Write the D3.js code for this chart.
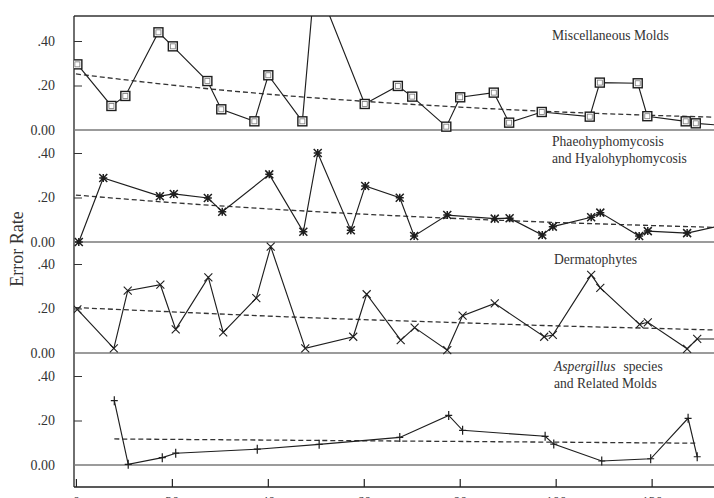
<!DOCTYPE html>
<html>
<head>
<meta charset="utf-8">
<script src="https://cdn.jsdelivr.net/npm/d3@7"></script>
<style>
  html, body { margin: 0; padding: 0; background: #fff; }
  svg { display: block; }
  text { font-family: "Liberation Serif", "DejaVu Serif", serif; fill: #333; }
</style>
</head>
<body>
<svg id="chart" width="714" height="498"></svg>
<script>
// ---------------- data ----------------
const xTicks = [0, 20, 40, 60, 80, 100, 120];
const yTicks = [0, 0.2, 0.4];

const miscX = [0.3, 7.4, 10.3, 17.2, 20.2, 27.4, 30.3, 37.2, 40.1, 47.2, 49.8, 60.2, 67.1, 70.1, 77.2, 80.1, 87.1, 90.3, 97.1, 107.1, 109.2, 117.1, 119.1, 127.1, 129.2, 134];
const miscY = [0.295, 0.108, 0.153, 0.439, 0.376, 0.22, 0.093, 0.039, 0.246, 0.039, 0.68, 0.117, 0.198, 0.150, 0.015, 0.147, 0.168, 0.033, 0.081, 0.06, 0.213, 0.21, 0.062, 0.039, 0.030, 0.022];
const miscMarked = [1,1,1,1,1,1,1,1,1,1,0,1,1,1,1,1,1,1,1,1,1,1,1,1,1,0];

const phaeoX = [0.6, 5.7, 17.5, 20.4, 27.5, 30.5, 40.3, 47.4, 50.4, 57.3, 60.3, 67.5, 70.5, 77.4, 87.3, 90.4, 97.2, 99.4, 107.4, 109.3, 117.4, 119.2, 127.4, 134];
const phaeoY = [0.0, 0.288, 0.206, 0.216, 0.198, 0.136, 0.304, 0.046, 0.40, 0.053, 0.252, 0.199, 0.027, 0.121, 0.105, 0.107, 0.031, 0.069, 0.111, 0.132, 0.027, 0.049, 0.040, 0.072];

const dermX = [0.3, 7.9, 10.8, 17.6, 20.8, 27.6, 30.7, 37.6, 40.6, 47.8, 57.8, 60.6, 67.7, 70.6, 77.4, 80.6, 87.3, 97.6, 99.4, 107.4, 109.3, 117.5, 119.2, 127.4, 129.5, 134];
const dermY = [0.196, 0.021, 0.28, 0.307, 0.106, 0.34, 0.093, 0.247, 0.478, 0.021, 0.073, 0.264, 0.058, 0.114, 0.013, 0.168, 0.223, 0.073, 0.081, 0.351, 0.293, 0.129, 0.138, 0.019, 0.063, 0.063];

const aspX = [8.0, 10.9, 18.0, 20.8, 37.8, 50.7, 67.5, 77.7, 80.6, 97.8, 99.6, 109.6, 119.8, 127.6, 129.5];
const aspY = [0.289, 0.003, 0.033, 0.053, 0.071, 0.093, 0.124, 0.223, 0.156, 0.129, 0.094, 0.018, 0.028, 0.21, 0.037];

const trendX = [0, 20, 40, 60, 80, 100, 120, 134];
const miscTrend = [0.252, 0.202, 0.161, 0.129, 0.103, 0.082, 0.066, 0.057];
const phaeoTrend = [0.211, 0.177, 0.149, 0.125, 0.105, 0.088, 0.074, 0.065];
const dermTrend = [0.204, 0.185, 0.166, 0.150, 0.136, 0.122, 0.111, 0.103];
const aspTrendX = [8, 129.5];
const aspTrend = [0.117, 0.098];

const panelLabels = [
  ["Miscellaneous Molds"],
  ["Phaeohyphomycosis", "and Hyalohyphomycosis"],
  ["Dermatophytes"],
  ["ASPERGILLUS", "and Related Molds"]
];

// ---------------- layout ----------------
(function () {
const svg = d3.select("#chart");
const L = 74, R = 714, T = 16, B = 487;
const x = d3.scaleLinear().domain([-0.4, 133]).range([L, R]);
const zeros = [130, 242, 353, 465];
const pxPerUnit = 222.5;
const yScales = zeros.map(z => d3.scaleLinear().domain([0, 0.5]).range([z, z - 0.5 * pxPerUnit]));

svg.append("defs").append("clipPath").attr("id", "plotclip")
  .append("rect").attr("x", L).attr("y", T).attr("width", R - L + 10).attr("height", B - T);

const ink = "#1e1e1e";

// frame: top line, left axis line
svg.append("line").attr("x1", L).attr("x2", R).attr("y1", T).attr("y2", T)
  .attr("stroke", "#333").attr("stroke-width", 1.6);
svg.append("line").attr("x1", L).attr("x2", L).attr("y1", T).attr("y2", B)
  .attr("stroke", "#222").attr("stroke-width", 1.3);

// zero lines
zeros.forEach(z => {
  svg.append("line").attr("x1", L).attr("x2", R).attr("y1", z).attr("y2", z)
    .attr("stroke", "#7a7a7a").attr("stroke-width", 1.7);
});

// y axes
yScales.forEach(ys => {
  const g = svg.append("g").attr("transform", `translate(${L},0)`)
    .call(d3.axisLeft(ys).tickValues(yTicks)
      .tickFormat(d => d === 0 ? "0.00" : d3.format(".2f")(d).slice(1))
      .tickSizeInner(-8).tickSizeOuter(0).tickPadding(19));
  g.select(".domain").remove();
  g.selectAll(".tick line").attr("stroke", "#333").attr("stroke-width", 1)
    .filter(d => d === 0).remove();
  g.selectAll(".tick text").attr("font-size", 14).attr("fill", "#444")
    .attr("font-family", "Liberation Serif, serif");
});

// bottom axis (labels are cut by the lower edge, as in the reference)
const xg = svg.append("g").attr("transform", `translate(0,${B})`)
  .call(d3.axisBottom(x).tickValues(xTicks).tickSizeInner(-8).tickSizeOuter(0).tickPadding(10));
xg.select(".domain").attr("stroke", "#222").attr("stroke-width", 1.4)
  .attr("d", `M${L},0H${R}`);
xg.selectAll(".tick line").attr("stroke", "#222").attr("stroke-width", 1.2);
xg.selectAll(".tick text").attr("font-size", 14).attr("fill", "#444")
  .attr("font-family", "Liberation Serif, serif");

// y label
svg.append("text").attr("transform", "translate(23,249) rotate(-90)")
  .attr("text-anchor", "middle").attr("font-size", 18).attr("fill", "#333")
  .text("Error Rate");

// ---------------- series ----------------
const plot = svg.append("g").attr("clip-path", "url(#plotclip)");

function drawSeries(xs, ys, yScale, marker, marked) {
  const pts = xs.map((v, i) => [v, ys[i], marked ? marked[i] : 1]);
  const line = d3.line().x(d => x(d[0])).y(d => yScale(d[1]));
  plot.append("path").datum(pts).attr("d", line)
    .attr("fill", "none").attr("stroke", ink).attr("stroke-width", 1.15);
  const g = plot.append("g");
  pts.filter(d => d[2]).forEach(d => {
    const cx = x(d[0]), cy = yScale(d[1]);
    if (marker === "square") {
      g.append("rect").attr("x", cx - 4.5).attr("y", cy - 4.5).attr("width", 9).attr("height", 9)
        .attr("fill", "#fff").attr("stroke", ink).attr("stroke-width", 1.4);
      g.append("rect").attr("x", cx - 2.5).attr("y", cy - 2.5).attr("width", 5).attr("height", 5)
        .attr("fill", "none").attr("stroke", "#777").attr("stroke-width", 0.8);
    } else if (marker === "star") {
      const s = 4;
      g.append("path").attr("d", `M${cx-s},${cy-s}L${cx+s},${cy+s}M${cx-s},${cy+s}L${cx+s},${cy-s}M${cx-s},${cy}L${cx+s},${cy}M${cx},${cy-s}L${cx},${cy+s}`)
        .attr("stroke", ink).attr("stroke-width", 1.5).attr("fill", "none");
    } else if (marker === "cross") {
      const s = 4;
      g.append("path").attr("d", `M${cx-s},${cy-s}L${cx+s},${cy+s}M${cx-s},${cy+s}L${cx+s},${cy-s}`)
        .attr("stroke", ink).attr("stroke-width", 1.1).attr("fill", "none");
    } else if (marker === "plus") {
      g.append("path").attr("d", `M${cx-3.5},${cy}L${cx+3.5},${cy}M${cx},${cy-4.5}L${cx},${cy+4.5}`)
        .attr("stroke", ink).attr("stroke-width", 1.2).attr("fill", "none");
    }
  });
}

function drawTrend(xs, ys, yScale) {
  const pts = xs.map((v, i) => [v, ys[i]]);
  const line = d3.line().curve(d3.curveMonotoneX).x(d => x(d[0])).y(d => yScale(d[1]));
  plot.append("path").datum(pts).attr("d", line)
    .attr("fill", "none").attr("stroke", "#333").attr("stroke-width", 1.3)
    .attr("stroke-dasharray", "5,3");
}

drawTrend(trendX, miscTrend, yScales[0]);
drawTrend(trendX, phaeoTrend, yScales[1]);
drawTrend(trendX, dermTrend, yScales[2]);
drawTrend(aspTrendX, aspTrend, yScales[3]);

drawSeries(miscX, miscY, yScales[0], "square", miscMarked);
drawSeries(phaeoX, phaeoY, yScales[1], "star");
drawSeries(dermX, dermY, yScales[2], "cross");
drawSeries(aspX, aspY, yScales[3], "plus");

// ---------------- panel labels ----------------
const labelPos = [[552, 40], [552, 146], [554, 264], [554, 371]];
const lineGap = 17;
panelLabels.forEach((lines, i) => {
  lines.forEach((t, j) => {
    const tx = svg.append("text").attr("x", labelPos[i][0]).attr("y", labelPos[i][1] + j * lineGap)
      .attr("font-size", 13.6).attr("fill", "#333");
    if (t === "ASPERGILLUS") {
      tx.append("tspan").attr("font-style", "italic").text("Aspergillus");
      tx.append("tspan").attr("dx", 8).text("species");
    } else {
      tx.text(t);
    }
  });
});
})();
</script>
</body>
</html>
